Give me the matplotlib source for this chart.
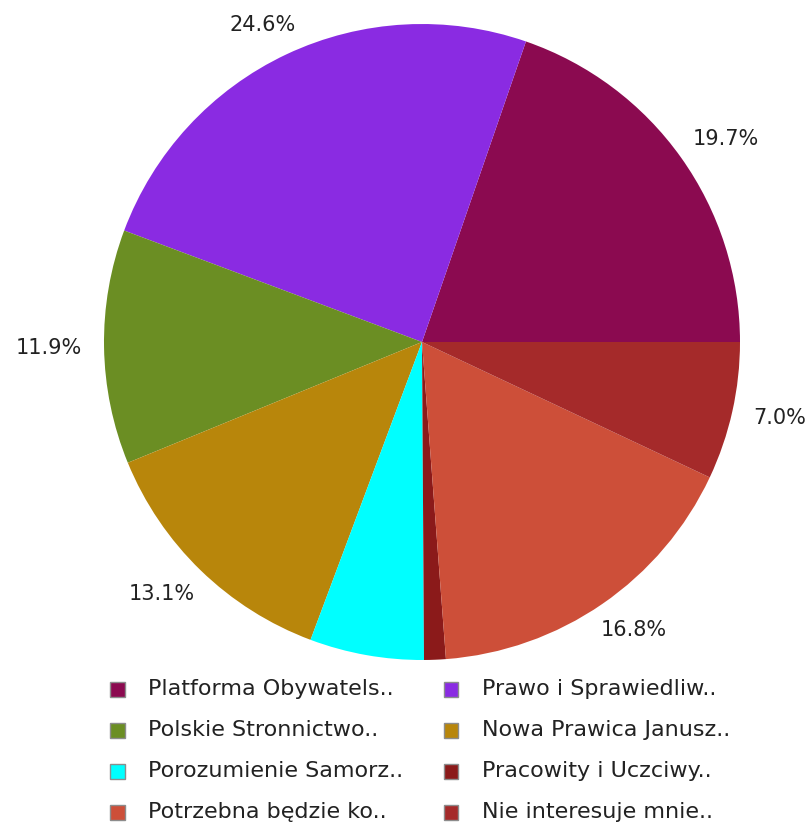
import matplotlib
matplotlib.use("Agg")
import numpy as np
import matplotlib.pyplot as plt
from matplotlib.patches import Rectangle

labels = ["Platforma Obywatels..", "Prawo i Sprawiedliw..", "Polskie Stronnictwo..",
          "Nowa Prawica Janusz..", "Porozumienie Samorz..", "Pracowity i Uczciwy..",
          "Potrzebna będzie ko..", "Nie interesuje mnie.."]
values = [19.7, 24.6, 11.9, 13.1, 5.8, 1.1, 16.8, 7.0]
colors = ["#8B0A50", "#8A2BE2", "#6B8E23", "#B8860B", "#00FFFF", "#8B1A1A", "#CD4F39", "#A52A2A"]

W, H = 807, 824
fig = plt.figure(figsize=(W / 100, H / 100), dpi=100)
cx, cy, r = 422, 342, 318
ax = fig.add_axes([(cx - r) / W, (H - cy - r) / H, 2 * r / W, 2 * r / H])

wedges, _ = ax.pie(values, colors=colors, startangle=0, counterclock=True, radius=1)
ax.set_xlim(-1, 1)
ax.set_ylim(-1, 1)
ax.set_aspect("equal")
ax.axis("off")

# percentage labels outside the pie, anchored so they sit beside the rim
renderer = fig.canvas.get_renderer()
total = sum(values)
for w, v in zip(wedges, values):
    pct = 100 * v / total
    if pct < 6.5:
        continue
    ang = np.deg2rad((w.theta1 + w.theta2) / 2)
    c, s = np.cos(ang), np.sin(ang)
    t = ax.text(1.07 * c, 1.07 * s, f"{pct:.1f}%", fontsize=15, color="#222222",
                ha="center", va="center", clip_on=False)
    bb = t.get_window_extent(renderer)
    dx_pt = c * bb.width / 2 * 72 / fig.dpi
    dy_pt = s * bb.height / 2 * 72 / fig.dpi
    t.remove()
    ax.annotate(f"{pct:.1f}%", xy=(1.07 * c, 1.07 * s), xytext=(dx_pt, dy_pt),
                textcoords="offset points", fontsize=15, color="#222222",
                ha="center", va="center", annotation_clip=False)

# legend: two columns, filled row by row
for i, (lab, col) in enumerate(zip(labels, colors)):
    row, colidx = divmod(i, 2)
    mx = 117 + colidx * 334
    my = 689 + row * 41
    sq = 15
    fig.add_artist(Rectangle(((mx - sq / 2) / W, 1 - (my + sq / 2) / H), sq / W, sq / H,
                             transform=fig.transFigure, facecolor=col,
                             edgecolor="#8c8c8c", linewidth=1))
    fig.text((mx + 31) / W, 1 - my / H, lab, fontsize=16, color="#222222",
             ha="left", va="center")

fig.savefig("out.png", dpi=100)
